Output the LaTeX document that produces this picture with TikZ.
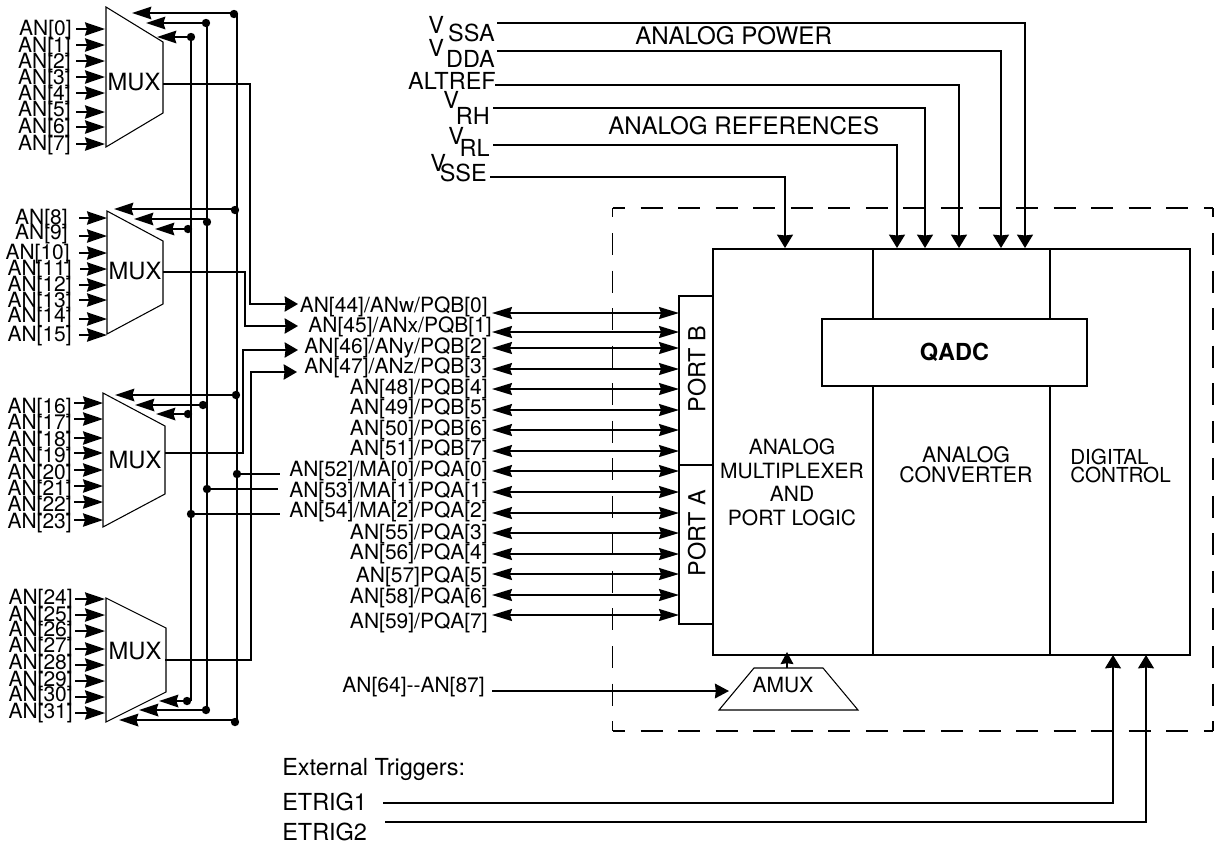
\documentclass[tikz,border=0pt]{standalone}
\usepackage{fontspec}
\setmainfont{TeX Gyre Heros}
\usetikzlibrary{arrows.meta}
\newcommand\fsz[1]{\fontsize{#1}{#1}\selectfont}
\tikzset{
  x=.75pt,y=-.75pt,
  lbl/.style={inner sep=0pt,text height=11.3pt,text depth=0pt,font=\fsz{15.75pt}},
  big/.style={inner sep=0pt,text height=12.4pt,text depth=0pt,font=\fsz{17.6pt}},
  head/.style={inner sep=0pt,text height=12.7pt,text depth=0pt,font=\fsz{18.1pt}},
  muxlbl/.style={inner sep=0pt,text height=12.7pt,text depth=0pt,font=\fsz{17.8pt}},
  wire/.style={line width=1.2pt},
  inarr/.style={wire,-{Stealth[length=15pt,width=10pt,inset=1.5pt]}},
  selarr/.style={wire,-{Stealth[length=14.5pt,width=9.5pt,inset=1.5pt]}},
  biarr/.style={wire,{Stealth[length=15pt,width=9pt,inset=1.5pt]}-{Stealth[length=15pt,width=9pt,inset=1.5pt]}},
  outarr/.style={wire,-{Stealth[length=10pt,width=11.5pt,inset=.6pt]}},
  downarr/.style={wire,-{Stealth[length=10pt,width=12pt,inset=.6pt]}},
  smallarr/.style={wire,-{Stealth[length=9pt,width=9.5pt,inset=.6pt]}},
  dot/.style={circle,fill=black,inner sep=0pt,minimum size=6.3pt},
  muxshape/.style={line width=.8pt,fill=white},
  blk/.style={draw,line width=2.2pt,inner sep=0pt},
  hdash/.style={line width=1.3pt,dash pattern=on 16.5pt off 11.66pt,dash phase=7.1pt},
  vdash/.style={line width=1.3pt,dash pattern=on 16.5pt off 11.66pt,dash phase=9.4pt},
}
% name, dot x, dot y, arrow y, tip x
\newcommand\seldot[5]{%
  \node[dot] (#1) at (#2,#3) {};
  \coordinate (#1t) at (#5,#4);
  \draw[selarr] (#1.center |- #1t) -- (#1t);
}
\begin{document}
\begin{tikzpicture}
\useasboundingbox (0,0) rectangle (1215,844);

% dashed outline
\coordinate (nw) at (612.5,208);
\coordinate (ne) at (1213,208);
\coordinate (sw) at (612.5,731);
\coordinate (se) at (1213,731);
\draw[hdash] (nw) -- (ne);
\draw[hdash] (sw) -- (se);
\draw[vdash] (nw) -- (sw);
\draw[vdash] (ne) -- (se);

% multiplexers
\foreach \m/\ax/\ay/\bx/\by/\cy/\dy/\tx/\ty in {0/106/7/163/42/113/147/134/82,1/107/211/163/241/304/334/135/271,2/103/393/165/426/494/527/135/460,3/106/598/166/628/692/722/135/651}{
  \draw[muxshape] (\ax,\ay) -- (\bx,\by) -- (\bx,\cy) -- (\ax,\dy) -- cycle;
  \node[muxlbl] (mux\m) at (\tx,\ty) {MUX};
}

% mux inputs: index / label y / right edge of label / arrow y / arrow start / arrow tip
\foreach \n/\ly/\r/\ay/\sx/\ex in {
  0/28/72/29/76/105, 1/45/71/45/76/105, 2/61/71/61/76/105, 3/77/71/77/76/105,
  4/93/71/93/76/105, 5/109/71/112/76/105, 6/126/71/127/76/105, 7/143/71/144/76/105,
  8/217/68/218/79/107, 9/232/68/236/79/107, 10/252/70/253/79/107, 11/268/72/269/80/107,
  12/284/72/285/79/107, 13/300/72/300/79/107, 14/315/72/319/79/107, 15/334/72/335/79/107,
  16/406/72/403/74/103, 17/422/72/419/74/103, 18/439/72/438/74/103, 19/455/72/453/74/103,
  20/472/72/470/74/103, 21/488/72/486/74/103, 22/504/72/502/74/103, 23/521/72/520/74/103,
  24/597/73/599/75/105, 25/614/73/615/75/105, 26/629/73/631/75/105, 27/645/73/649/75/105,
  28/662/73/665/75/105, 29/679/73/681/75/105, 30/694/73/697/75/105, 31/711/73/713/75/105}{
  \node[lbl,anchor=east] (in\n) at (\r,\ly) {AN[\n]};
  \coordinate (ins\n) at (\sx,\ay);
  \coordinate (ine\n) at (\ex,\ay);
  \draw[inarr] (ins\n) -- (ine\n);
}

% select lines
\coordinate (sa0) at (191,37);  \coordinate (sa1) at (191,701);
\coordinate (sb0) at (207,23);  \coordinate (sb1) at (207,710);
\coordinate (sc0) at (237,13);  \coordinate (sc1) at (237,721);
\draw[wire] (sa0) -- (sa1);
\draw[wire] (sb0) -- (sb1);
\draw[wire] (sc0) -- (sc1);
\seldot{ma}{234}{14}{13}{132}
\seldot{mb}{206}{23}{23}{146}
\seldot{mc}{191}{37}{37}{157}
\seldot{na}{235}{210}{209}{114}
\seldot{nb}{207}{222}{219}{134}
\seldot{nc}{188}{229}{229}{155}
\seldot{oa}{236}{395}{395}{115}
\seldot{ob}{203}{405}{405}{135}
\seldot{oc}{188}{414}{414}{156}
\seldot{pa}{235}{722}{720}{119}
\seldot{pb}{206}{710}{710}{139}
\seldot{pc}{187}{701}{701}{159}

% port pins: index / text / label y / arrow y / right edge
\foreach \n/\lab/\ly/\ay/\r in {
  44/{AN[44]/ANw/PQB[0]}/305/313/488,
  45/{AN[45]/ANx/PQB[1]}/325/332/492,
  46/{AN[46]/ANy/PQB[2]}/346/348/488,
  47/{AN[47]/ANz/PQB[3]}/366/369/488,
  48/{AN[48]/PQB[4]}/387/389/488,
  49/{AN[49]/PQB[5]}/407/410/488,
  50/{AN[50]/PQB[6]}/428/430/488,
  51/{AN[51]/PQB[7]}/448/451/488,
  52/{AN[52]/MA[0]/PQA[0]}/469/471/488,
  53/{AN[53]/MA[1]/PQA[1]}/490/492/488,
  54/{AN[54]/MA[2]/PQA[2]}/510/513/488,
  55/{AN[55]/PQA[3]}/532/533/488,
  56/{AN[56]/PQA[4]}/552/554/488,
  57/{AN[57]PQA[5]}/575/574/488,
  58/{AN[58]/PQA[6]}/596/595/488,
  59/{AN[59]/PQA[7]}/621/615/488}{
  \node[lbl,anchor=east] (pin\n) at (\r,\ly) {\lab};
  \coordinate (pl\n) at (492,\ay);
  \coordinate (pr\n) at (679,\ay);
  \draw[biarr] (pl\n) -- (pr\n);
}

% mux outputs
\coordinate (o0) at (163,84);  \coordinate (o0e) at (298,304);
\coordinate (o1) at (163,272); \coordinate (o1e) at (298,326);
\coordinate (o2) at (165,453); \coordinate (o2e) at (298,350);
\coordinate (o3) at (165,660); \coordinate (o3e) at (297,372);
\draw[outarr] (o0) -- (250,84) -- (250,304) -- (o0e);
\draw[outarr] (o1) -- (245,272) -- (245,326) -- (o1e);
\draw[outarr] (o2) -- (243,453) -- (243,350) -- (o2e);
\draw[outarr] (o3) -- (251,660) -- (251,372) -- (o3e);

% select tap-offs
\node[dot] (ta) at (237,474) {};
\node[dot] (tb) at (207,489) {};
\node[dot] (tc) at (191,514) {};
\coordinate (tae) at (280,474);
\coordinate (tbe) at (278,489);
\coordinate (tce) at (280,514);
\draw[wire] (ta.center) -- (tae);
\draw[wire] (tb.center) -- (tbe);
\draw[wire] (tc.center) -- (tce);

% blocks
\node[blk,minimum width=120pt,minimum height=304.5pt] (bmux) at (793,452) {};
\node[blk,minimum width=132.75pt,minimum height=304.5pt] (bconv) at (961.5,452) {};
\node[blk,minimum width=105pt,minimum height=304.5pt] (bdig) at (1120,452) {};
\node[blk,fill=white,minimum width=198.75pt,minimum height=50.25pt,font=\fsz{17.6pt}\bfseries] (qadc) at (954.5,352.5) {QADC};
\node[blk,minimum width=25.5pt,minimum height=126.75pt] (portb) at (696,380.5) {};
\node[blk,minimum width=25.5pt,minimum height=119.25pt] (porta) at (696,544.5) {};
\node[big,rotate=90] (portbl) at (697,369) {PORT B};
\node[big,rotate=90] (portal) at (697,533) {PORT A};
\node[inner sep=0pt,align=center,font=\fontsize{15.75pt}{17.7pt}\selectfont] (tmux) at (792,482.5) {ANALOG\\MULTIPLEXER\\AND\\PORT LOGIC};
\node[inner sep=0pt,align=center,font=\fontsize{16pt}{15pt}\selectfont] (tconv) at (966,465) {ANALOG\\CONVERTER};
\node[inner sep=0pt,align=left,anchor=west,font=\fontsize{15.5pt}{13.7pt}\selectfont] (tdig) at (1070,466) {DIGITAL\\CONTROL};

% analog supply / references
\node[big,anchor=west] (vssav) at (428,25) {V};
\node[big,anchor=east] (vssa) at (495,33) {SSA};
\node[big,anchor=west] (vddav) at (428,48) {V};
\node[big,anchor=east] (vdda) at (495,59) {DDA};
\node[big,anchor=east] (altref) at (496,81) {ALTREF};
\node[big,anchor=west] (vrhv) at (443,100) {V};
\node[big,anchor=east] (vrh) at (490,116) {RH};
\node[big,anchor=west] (vrlv) at (448,136) {V};
\node[big,anchor=east] (vrl) at (490,148) {RL};
\node[big,anchor=west] (vssev) at (430,163) {V};
\node[big,anchor=east] (vsse) at (487,173) {SSE};
\node[head,anchor=west] (apower) at (635,36) {ANALOG POWER};
\node[head,anchor=west] (arefs) at (608,126) {ANALOG REFERENCES};
\foreach \nm/\sx/\yy/\ex in {a/497/23/1025,b/497/51/1001,c/495/85/959,d/493/108/925,e/493/145/897,f/490/177/785}{
  \coordinate (top\nm s) at (\sx,\yy);
  \coordinate (top\nm e) at (\ex,248);
  \draw[downarr] (top\nm s) -| (top\nm e);
}

% AMUX
\draw[muxshape] (754,668) -- (823,668) -- (858,710) -- (719,710) -- cycle;
\node[lbl] (amux) at (783,685) {AMUX};
\coordinate (amuxo) at (787,668);
\coordinate (amuxt) at (787,652);
\draw[smallarr] (amuxo) -- (amuxt);
\node[lbl,anchor=east] (an64) at (485,685) {AN[64]{-}{-}AN[87]};
\coordinate (an64s) at (492,691);
\coordinate (an64e) at (729,691);
\draw[wire,-{Stealth[length=10.5pt,width=11pt,inset=.6pt]}] (an64s) -- (an64e);

% triggers
\node[big,anchor=west] (ext) at (282,767) {External Triggers:};
\node[big,anchor=west] (et1) at (282,802) {ETRIG1};
\node[big,anchor=west] (et2) at (282,832) {ETRIG2};
\coordinate (et1s) at (383,803);
\coordinate (et2s) at (385,822);
\coordinate (et1e) at (1113,655);
\coordinate (et2e) at (1146,655);
\draw[downarr] (et1s) -| (et1e);
\draw[downarr] (et2s) -| (et2e);
\end{tikzpicture}
\end{document}
